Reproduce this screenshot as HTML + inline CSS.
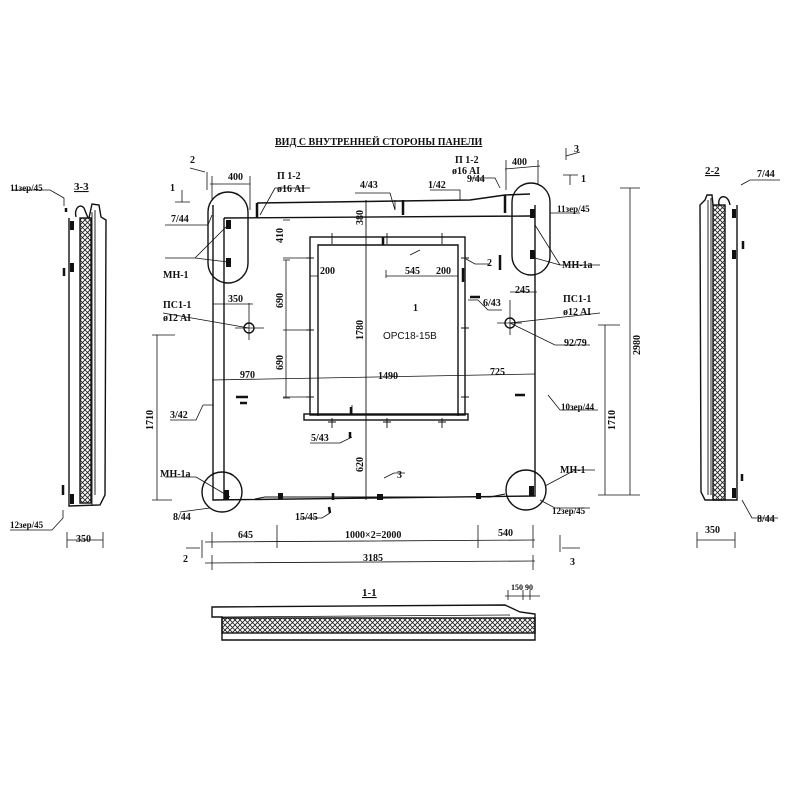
<!DOCTYPE html>
<html><head><meta charset="utf-8"><style>
html,body{margin:0;padding:0;background:#fff}
svg{display:block}
text{font-family:"Liberation Serif",serif;font-weight:bold;fill:#111}
.s{font-family:"Liberation Sans",sans-serif;font-weight:normal}
</style></head><body>
<svg width="800" height="800" viewBox="0 0 800 800" xmlns="http://www.w3.org/2000/svg">
<defs>
<pattern id="x" width="5" height="5" patternUnits="userSpaceOnUse">
<path d="M0 0L5 5M5 0L0 5" stroke="#222" stroke-width="0.9"/>
</pattern>
</defs>
<g stroke="#111" fill="none" stroke-width="1.4">
<text x="275" y="145" font-size="10" stroke="none" text-decoration="underline">ВИД С ВНУТРЕННЕЙ СТОРОНЫ ПАНЕЛИ</text>
<path d="M213 205 L213 500 L535 496 L535 205"/>
<path d="M224 218 L224 500"/>
<path d="M224 218 L530 216"/>
<path d="M257 203 L470 200 L505 195 L530 194"/>
<path d="M257 203 L257 218" stroke-width="2.5"/>
<path d="M505 195 L505 213" stroke-width="2.5"/>
<rect x="208" y="192" width="40" height="91" rx="20"/>
<rect x="512" y="183" width="38" height="92" rx="19"/>
<circle cx="222" cy="492" r="20"/>
<circle cx="526" cy="490" r="20"/>
<g fill="#111" stroke="none">
<rect x="226" y="220" width="5" height="9"/><rect x="226" y="258" width="5" height="9"/>
<rect x="530" y="209" width="5" height="9"/><rect x="530" y="250" width="5" height="9"/>
<rect x="224" y="490" width="5" height="10"/><rect x="529" y="486" width="5" height="10"/>
<rect x="278" y="493" width="5" height="6"/><rect x="377" y="494" width="6" height="6"/><rect x="476" y="493" width="5" height="6"/>
</g>
<rect x="310" y="237" width="155" height="178"/>
<path d="M318 416 L318 245 L458 245 L458 416"/>
<rect x="304" y="414" width="164" height="6"/>
<g stroke-width="0.9">
<path d="M332 233 L332 244 M328 237 L336 237 M387 233 L387 244 M383 237 L391 237 M442 233 L442 244 M438 237 L446 237"/>
<path d="M332 418 L332 428 M328 422 L336 422 M387 418 L387 428 M383 422 L391 422 M442 418 L442 428 M438 422 L446 422"/>
<path d="M306 258 L314 258 M310 254 L310 262 M306 330 L314 330 M310 326 L310 334 M306 397 L314 397 M310 393 L310 401"/>
<path d="M461 258 L469 258 M465 254 L465 262 M461 328 L469 328 M465 324 L465 332 M461 397 L469 397 M465 393 L465 401"/>
</g>
<path d="M366 200 L366 500" stroke-width="0.9"/>
<path d="M255 499 L265 497 L490 497 L505 494" stroke-width="0.9"/>
<circle cx="249" cy="328" r="5"/><path d="M235 328 L264 328 M249 303 L249 340" stroke-width="0.8"/>
<circle cx="510" cy="323" r="5"/><path d="M497 323 L522 323 M510 300 L510 335" stroke-width="0.8"/>
<g stroke-width="0.8">
<path d="M210 184 L250 184 M212 176 L212 200 M250 176 L250 210"/>
<path d="M505 169 L540 166 M506 160 L506 190 M538 160 L538 185"/>
<path d="M212 380 L535 374"/>
<path d="M286 260 L286 398"/>
<path d="M283 220 L290 220 M283 260 L290 260 M283 330 L290 330 M283 398 L290 398 M283 258 L310 258 M283 330 L310 330 M283 397 L310 397"/>
<path d="M310 276 L318 276 M386 270 L386 278 M386 276 L458 276"/>
<path d="M213 304 L253 304"/>
<path d="M510 292 L537 292"/>
<path d="M205 542 L535 540 M212 532 L212 548 M277 525 L277 548 M478 525 L478 548 M533 525 L533 548"/>
<path d="M205 563 L535 561 M212 555 L212 570 M533 555 L533 570"/>
<path d="M157 335 L157 500 M152 335 L175 335 M152 500 L172 500"/>
<path d="M605 325 L605 495 M598 325 L620 325 M598 495 L620 495"/>
<path d="M630 188 L630 495 M620 188 L640 188 M620 495 L640 495"/>
<path d="M207 172 L207 190 M190 168 L205 172"/>
<path d="M202 540 L202 558 M186 548 L200 548"/>
<path d="M566 148 L566 160 M566 156 L580 152"/>
<path d="M570 175 L570 185 M563 175 L578 175"/>
<path d="M182 190 L182 202 M175 202 L190 202"/>
<path d="M560 535 L560 552 M562 548 L580 548"/>
<path d="M260 215 L275 188 L310 188"/><path d="M165 225 L208 225 L212 215"/>
<path d="M165 258 L195 258 L228 225 M195 258 L228 262"/>
<path d="M395 200 L395 210 L390 193 L355 193"/>
<path d="M460 200 L460 190 L430 190"/>
<path d="M500 188 L495 178 L470 178"/>
<path d="M550 224 L550 213 L580 213"/>
<path d="M535 225 L560 265 M535 258 L560 265 L600 265"/>
<path d="M163 313 L249 328"/><path d="M600 313 L510 323 L555 345 L590 345"/>
<path d="M468 300 L478 300 L488 310 L502 310"/>
<path d="M548 395 L560 410 L598 410"/>
<path d="M203 405 L213 405 M203 405 L196 420 L170 420"/>
<path d="M352 405 L352 415 M352 437 L340 443 L310 443"/>
<path d="M384 478 L394 473 L405 473"/>
<path d="M196 477 L165 477 M196 477 L230 497"/>
<path d="M545 486 L575 470 L595 470"/>
<path d="M540 500 L555 508 L590 508"/>
<path d="M180 512 L210 508"/>
<path d="M330 513 L322 518 L300 518"/>
<path d="M410 255 L420 250"/>
<path d="M466 259 L475 264 L490 264"/>
</g>
<g stroke-width="2.5">
<path d="M403 215 L403 200 M463 282 L463 268 M500 270 L500 255 M236 397 L248 397 M470 297 L480 297 M515 395 L525 395 M351 407 L351 415 M350 432 L350 438 M329 507 L330 513 M333 493 L333 500 M383 237 L383 245 M240 403 L247 403"/>
<path d="M64 268 L64 276 M63 485 L63 495 M66 208 L66 212 M743 241 L743 249 M742 474 L742 481"/>
</g>
<text x="74" y="190" font-size="11" stroke="none" text-decoration="underline">3-3</text>
<path d="M69 218 L69 506 L100 505 L105 495 L106 220 L101 217 L99 205 L92 204 L89 218"/>
<path d="M76 217 C74 208 80 203 84 208 L88 218"/>
<rect x="80" y="218" width="11" height="285" fill="url(#x)"/>
<path d="M92 212 L92 505 M95 210 L95 495" stroke-width="0.9"/>
<g fill="#111" stroke="none"><rect x="70" y="221" width="4" height="9"/><rect x="70" y="263" width="4" height="9"/><rect x="70" y="494" width="4" height="10"/></g>
<path d="M64 198 L64 206 M12 190 L50 190 L64 198 M63 510 L63 518 L52 530 L10 530" stroke-width="0.8"/>
<path d="M67 540 L103 540 M67 532 L67 548 M103 532 L103 548" stroke-width="0.8"/>
<text x="705" y="174" font-size="11" stroke="none" text-decoration="underline">2-2</text>
<path d="M737 205 L737 500 L705 500 L701 492 L700 205 L705 200 L707 195 L712 195 L713 205"/>
<path d="M719 205 C717 195 728 193 730 205"/>
<rect x="713" y="205" width="12" height="295" fill="url(#x)"/>
<path d="M708 200 L708 495 M711 198 L711 495" stroke-width="0.9"/>
<g fill="#111" stroke="none"><rect x="732" y="209" width="4" height="9"/><rect x="732" y="250" width="4" height="9"/><rect x="732" y="488" width="4" height="10"/></g>
<path d="M741 185 L750 180 L780 180 M742 500 L752 518 L778 518" stroke-width="0.8"/>
<path d="M697 540 L735 540 M697 532 L697 548 M735 532 L735 548" stroke-width="0.8"/>
<text x="362" y="596" font-size="11" stroke="none" text-decoration="underline">1-1</text>
<path d="M212 607 L505 605 L520 612 L535 614 L535 640 L222 640 L222 617 L212 617 Z"/>
<rect x="222" y="618" width="313" height="15" fill="url(#x)"/>
<path d="M222 617 L510 615" stroke-width="0.8"/>
<path d="M505 596 L540 596 M508 590 L508 600 M523 590 L523 600 M530 590 L530 600" stroke-width="0.8"/>
</g>
<g font-size="10" stroke="none">
<text x="228" y="180">400</text><text x="512" y="165">400</text>
<text x="190" y="163">2</text><text x="170" y="191">1</text>
<text x="574" y="152">3</text><text x="581" y="182">1</text>
<text x="183" y="562">2</text><text x="570" y="565">3</text>
<text x="277" y="179">П 1-2</text><text x="277" y="192">ø16 AI</text>
<text x="455" y="163">П 1-2</text><text x="452" y="174">ø16 AI</text>
<text x="360" y="188">4/43</text><text x="428" y="188">1/42</text><text x="467" y="182">9/44</text>
<text x="171" y="222">7/44</text><text x="557" y="212" font-size="9">11зер/45</text>
<text x="163" y="278">МН-1</text><text x="562" y="268">МН-1а</text>
<text x="163" y="308">ПС1-1</text><text x="163" y="321">ø12 AI</text>
<text x="563" y="302">ПС1-1</text><text x="563" y="315">ø12 AI</text>
<text x="228" y="302">350</text><text x="515" y="293">245</text>
<text x="564" y="346">92/79</text>
<text x="483" y="306">6/43</text>
<text x="240" y="378">970</text><text x="378" y="379">1490</text><text x="490" y="375">725</text>
<text x="170" y="418">3/42</text><text x="561" y="410" font-size="9">10зер/44</text>
<text x="311" y="441">5/43</text>
<text x="320" y="274">200</text><text x="405" y="274">545</text><text x="436" y="274">200</text>
<text x="487" y="266">2</text><text x="413" y="311">1</text>
<text x="160" y="477">МН-1а</text><text x="560" y="473">МН-1</text>
<text x="173" y="520">8/44</text><text x="552" y="514" font-size="9">12зер/45</text>
<text x="295" y="520">15/45</text><text x="397" y="478">3</text>
<text x="238" y="538">645</text><text x="345" y="538">1000×2=2000</text><text x="498" y="536">540</text>
<text x="363" y="561">3185</text>
<text x="76" y="542">350</text><text x="705" y="533">350</text>
<text x="10" y="191" font-size="9">11зер/45</text><text x="10" y="528" font-size="9">12зер/45</text>
<text x="757" y="177">7/44</text><text x="757" y="522">8/44</text>
<text x="511" y="590" font-size="8">150 90</text>
<text class="s" x="383" y="339" font-size="10">ОРС18-15В</text>
<g font-size="10">
<text transform="translate(363,225) rotate(-90)">380</text>
<text transform="translate(283,243) rotate(-90)">410</text>
<text transform="translate(283,308) rotate(-90)">690</text>
<text transform="translate(283,370) rotate(-90)">690</text>
<text transform="translate(363,340) rotate(-90)">1780</text>
<text transform="translate(363,472) rotate(-90)">620</text>
<text transform="translate(153,430) rotate(-90)">1710</text>
<text transform="translate(615,430) rotate(-90)">1710</text>
<text transform="translate(640,355) rotate(-90)">2980</text>
</g>
</g>
</svg>
</body></html>
